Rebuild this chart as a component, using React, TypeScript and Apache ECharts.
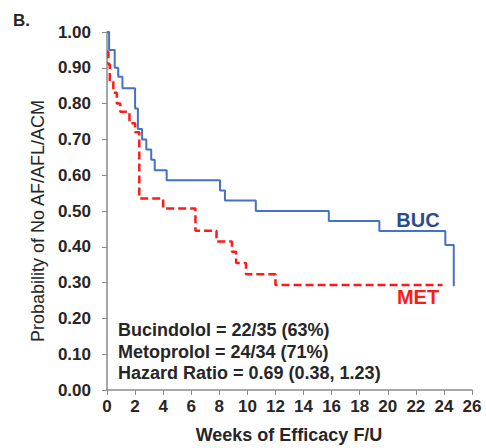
import React, { useEffect, useRef } from "react";
import * as echarts from "echarts";

// Kaplan-Meier steps: [week, survival after event]
const bucSteps: [number, number][] = [
  [0, 1.0], [0.15, 0.95], [0.55, 0.9], [0.8, 0.875], [1.1, 0.843],
  [2.0, 0.786], [2.2, 0.729], [2.5, 0.7], [2.8, 0.672], [3.15, 0.643],
  [3.4, 0.614], [4.25, 0.586], [8.05, 0.557], [8.4, 0.529], [10.6, 0.5],
  [15.8, 0.472], [19.4, 0.444], [24.1, 0.405], [24.7, 0.29],
];
const metSteps: [number, number][] = [
  [0, 0.945], [0.1, 0.91], [0.2, 0.86], [0.45, 0.83], [0.7, 0.8],
  [0.95, 0.777], [1.6, 0.745], [2.0, 0.72], [2.3, 0.535], [4.0, 0.507],
  [6.3, 0.445], [7.8, 0.415], [8.9, 0.386], [9.2, 0.355], [9.9, 0.323],
  [12.0, 0.293], [23.9, 0.293],
];
const xTicks = { min: 0, max: 26, interval: 2 };
const yTicks = { min: 0, max: 1, interval: 0.1 };
const statLines = [
  "Bucindolol = 22/35 (63%)",
  "Metoprolol = 24/34 (71%)",
  "Hazard Ratio = 0.69 (0.38, 1.23)",
];
const seriesLabels = ["BUC", "MET"];

export default function App() {
  const ref = useRef<HTMLDivElement>(null);
  useEffect(() => {
    if (!ref.current) return;
    const chart = echarts.init(ref.current, undefined, { renderer: "svg" });
    const font = "Arial, 'Liberation Sans', Helvetica, sans-serif";
    const gridLeft = 107, gridTop = 32, gridRight = 14, gridBottom = 58;
    chart.setOption({
      animation: false,
      backgroundColor: "#ffffff",
      grid: { left: gridLeft, top: gridTop, right: gridRight, bottom: gridBottom },
      xAxis: {
        type: "value",
        min: xTicks.min, max: xTicks.max, interval: xTicks.interval,
        axisLine: { lineStyle: { color: "#8a8a8a", width: 1.5 } },
        axisTick: { show: true, inside: false, length: 5, lineStyle: { color: "#8a8a8a" } },
        splitLine: { show: false },
        axisLabel: { color: "#262626", fontWeight: "bold", fontSize: 17, fontFamily: font, margin: 8 },
      },
      yAxis: {
        type: "value",
        min: yTicks.min, max: yTicks.max, interval: yTicks.interval,
        axisLine: { show: true, lineStyle: { color: "#8a8a8a", width: 1.5 } },
        axisTick: { show: true, inside: false, length: 5, lineStyle: { color: "#8a8a8a" } },
        splitLine: { show: false },
        axisLabel: {
          color: "#262626", fontWeight: "bold", fontSize: 17, fontFamily: font, margin: 16,
          formatter: (v: number) => v.toFixed(2),
        },
      },
      series: [
        {
          name: "BUC", type: "line", step: "end", data: bucSteps, showSymbol: false,
          lineStyle: { color: "#4472c4", width: 2 }, z: 3,
        },
        {
          name: "MET", type: "line", step: "end", data: metSteps, showSymbol: false,
          lineStyle: { color: "#ff1a1a", width: 2.5, type: [8, 4] }, z: 4,
        },
      ],
      graphic: [
        { type: "text", left: 13, top: 12, style: { text: "B.", fontSize: 17, fontWeight: "bold", fill: "#262626", fontFamily: font } },
        {
          type: "text", x: 38, y: 221, rotation: Math.PI / 2,
          style: { text: "Probability of No AF/AFL/ACM", fontSize: 18, fill: "#262626", fontFamily: font, align: "center", verticalAlign: "middle" },
        },
        {
          type: "text", x: 289, y: 435,
          style: { text: "Weeks of Efficacy F/U", fontSize: 18, fontWeight: "bold", fill: "#262626", fontFamily: font, align: "center", verticalAlign: "middle" },
        },
        ...statLines.map((t, i) => ({
          type: "text", x: 118, y: 330 + i * 21.7,
          style: { text: t, fontSize: 18, fontWeight: "bold", fill: "#262626", fontFamily: font, align: "left", verticalAlign: "middle" },
        })),
        {
          type: "text", x: 418, y: 220,
          style: { text: seriesLabels[0], fontSize: 20, fontWeight: "bold", fill: "#2e4b8f", fontFamily: font, align: "center", verticalAlign: "middle" },
        },
        {
          type: "text", x: 418, y: 297,
          style: { text: seriesLabels[1], fontSize: 20, fontWeight: "bold", fill: "#ff1a1a", fontFamily: font, align: "center", verticalAlign: "middle" },
        },
      ],
    });
    return () => chart.dispose();
  }, []);
  return <div ref={ref} style={{ width: 486, height: 448, position: "absolute", left: 0, top: 0 }} />;
}
